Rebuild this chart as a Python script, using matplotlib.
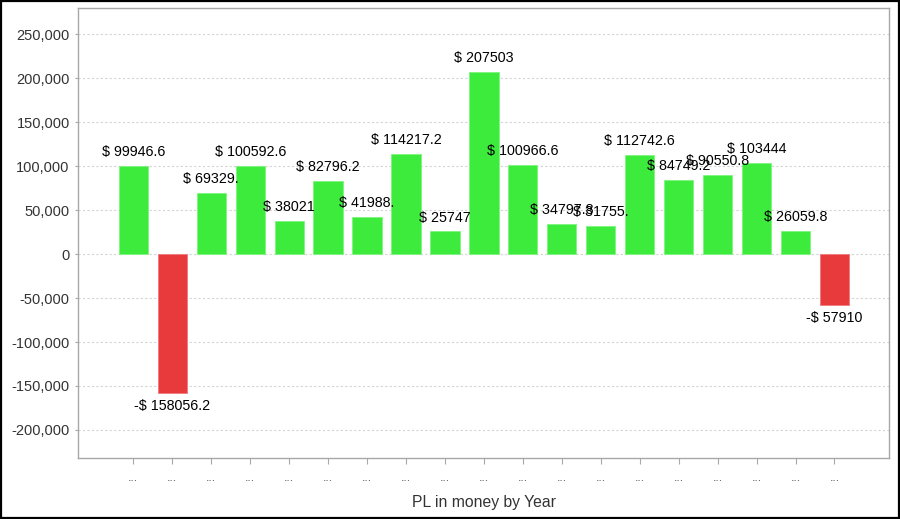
import matplotlib
matplotlib.use("Agg")
import matplotlib.pyplot as plt
from matplotlib.patches import Rectangle
from matplotlib.ticker import FuncFormatter

categories = ["..."] * 19
values = [99946.6, -158056.2, 69329.0, 100592.6, 38021.0, 82796.2, 41988.0,
          114217.2, 25747.0, 207503.0, 100966.6, 34797.8, 31755.0, 112742.6,
          84749.2, 90550.8, 103444.0, 26059.8, -57910.0]
labels = ["$ 99946.6", "-$ 158056.2", "$ 69329.", "$ 100592.6", "$ 38021",
          "$ 82796.2", "$ 41988.", "$ 114217.2", "$ 25747", "$ 207503",
          "$ 100966.6", "$ 34797.8", "$ 31755.", "$ 112742.6", "$ 84749.2",
          "$ 90550.8", "$ 103444", "$ 26059.8", "-$ 57910"]
yticks = [-200000, -150000, -100000, -50000, 0, 50000, 100000, 150000, 200000, 250000]

GREEN = "#3DEB3D"
RED = "#E8393C"

plt.rcParams["font.family"] = ["Liberation Sans", "DejaVu Sans"]

fig = plt.figure(figsize=(9, 5.19), dpi=100)
ax = fig.add_axes([0.0867, 0.1175, 0.9011, 0.867])

x = list(range(len(values)))
colors = [GREEN if v >= 0 else RED for v in values]
ax.bar(x, values, width=0.75, color=colors, edgecolor=[
    "#7df57d" if v >= 0 else "#f07a7d" for v in values], linewidth=0.6, zorder=3)

for xi, v, lab in zip(x, values, labels):
    if v >= 0:
        ax.annotate(lab, (xi, v), xytext=(0, 5), textcoords="offset points",
                    ha="center", va="bottom", fontsize=10.3, color="black", zorder=4)
    else:
        ax.annotate(lab, (xi, v), xytext=(0, -4), textcoords="offset points",
                    ha="center", va="top", fontsize=10.3, color="black", zorder=4)

ax.set_xlim(-1.42, 19.4)
ax.set_ylim(-232000, 280000)
ax.set_yticks(yticks)
ax.yaxis.set_major_formatter(FuncFormatter(lambda v, p: f"{int(v):,}"))
ax.set_xticks(x)
ax.set_xticklabels(categories)

ax.grid(axis="y", color="#d4d4d4", linestyle=(0, (2, 2)), linewidth=0.8, zorder=0)
ax.set_axisbelow(True)

for s in ax.spines.values():
    s.set_color("#a8a8a8")
    s.set_linewidth(1.0)

ax.tick_params(axis="y", length=2, color="#a8a8a8", labelsize=10.5,
               labelcolor="#333333", pad=4)
ax.tick_params(axis="x", length=4, color="#a8a8a8", labelsize=9,
               labelcolor="#555555", pad=6)

ax.set_xlabel("PL in money by Year", fontsize=11.3, color="#333333", labelpad=8)

fig.patches.append(Rectangle((0.001, 0.001), 0.998, 0.997, transform=fig.transFigure,
                             fill=False, edgecolor="black", linewidth=1.6))

fig.savefig("out.png", dpi=100, facecolor="white")
